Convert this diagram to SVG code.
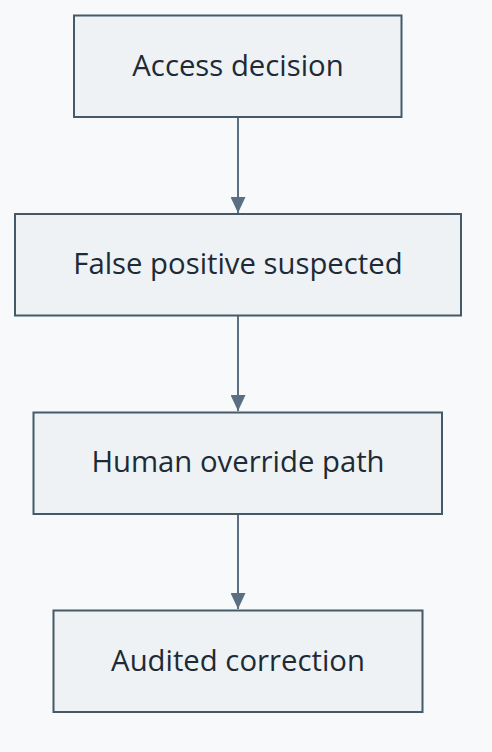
<svg xmlns="http://www.w3.org/2000/svg" width="492" height="752" viewBox="0 0 492 752">
<defs>
<style>
.box{fill:#eef2f5;stroke:#455a69;stroke-width:2}
.lbl{font-family:"Open Sans","Noto Sans",sans-serif;font-size:29.3px;fill:#1e2a35;text-anchor:middle}
.edge{stroke:#5c6f82;stroke-width:2;fill:none}
</style>
<marker id="arr" viewBox="0 0 16 15" refX="16" refY="7.5" markerWidth="16" markerHeight="15" markerUnits="userSpaceOnUse" orient="auto">
<path d="M0,0 L16,7.5 L0,15 Z" fill="#5c6f82"/>
</marker>
</defs>
<rect width="492" height="752" fill="#f7f9fb"/>
<g id="connectors">
<line class="edge" x1="238" y1="117" x2="238" y2="213" marker-end="url(#arr)"/>
<line class="edge" x1="238" y1="315" x2="238" y2="411" marker-end="url(#arr)"/>
<line class="edge" x1="238" y1="514" x2="238" y2="609" marker-end="url(#arr)"/>
</g>
<g id="node-access">
<rect class="box" x="74" y="15.5" width="327.5" height="101.5"/>
<text class="lbl" x="238" y="76">Access decision</text>
</g>
<g id="node-false-positive">
<rect class="box" x="15" y="214" width="446" height="101.5"/>
<text class="lbl" x="238" y="273.5">False positive suspected</text>
</g>
<g id="node-override">
<rect class="box" x="33.5" y="412.5" width="408.5" height="101.5"/>
<text class="lbl" x="238" y="472">Human override path</text>
</g>
<g id="node-audited">
<rect class="box" x="53.5" y="610.5" width="369" height="101.5"/>
<text class="lbl" x="238" y="670.5">Audited correction</text>
</g>
</svg>
